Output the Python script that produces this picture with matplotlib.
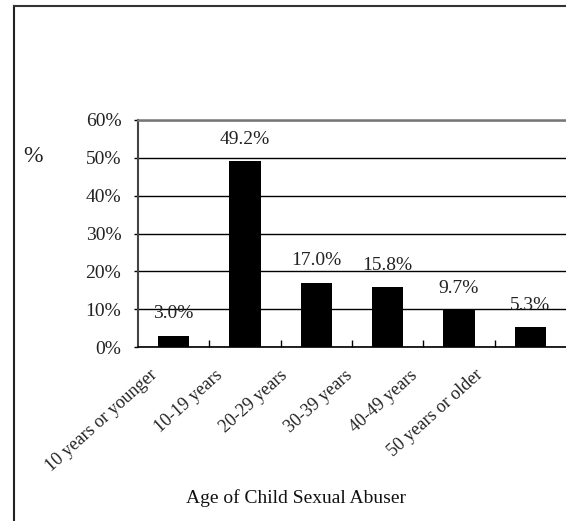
import matplotlib
matplotlib.use("Agg")
import matplotlib.pyplot as plt
from matplotlib.lines import Line2D
from matplotlib.ticker import FixedLocator, PercentFormatter
import matplotlib.transforms as mtransforms

categories = ["10 years or younger", "10-19 years", "20-29 years",
              "30-39 years", "40-49 years", "50 years or older"]
values = [3.0, 49.2, 17.0, 15.8, 9.7, 5.3]
value_labels = ["3.0%", "49.2%", "17.0%", "15.8%", "9.7%", "5.3%"]
yticks = [0, 10, 20, 30, 40, 50, 60]

plt.rcParams['font.family'] = ['Liberation Serif', 'DejaVu Serif']
FS = 14

fig = plt.figure(figsize=(5.66, 5.21), dpi=100)
ax = fig.add_axes([138/566, 1 - 347/521, 1 - 138/566, (347 - 120)/521])

x = list(range(len(categories)))
ax.bar(x, values, width=0.44, color='black', zorder=3)
ax.set_xlim(-0.5, len(categories) - 0.5)
ax.set_ylim(0, 60)
ax.set_yticks(yticks)
ax.yaxis.set_major_formatter(PercentFormatter(decimals=0))
ax.tick_params(axis='y', labelsize=FS, length=3, width=1, pad=9, direction='out',
               labelcolor='#222222')
ax.grid(axis='y', color='black', linewidth=1, zorder=0)

ax.set_xticks(x)
ax.set_xticklabels(categories, rotation=42, ha='right', rotation_mode='anchor',
                   fontsize=FS - 1, color='#222222')
ax.tick_params(axis='x', length=0, pad=14)
for i, lab in enumerate(ax.get_xticklabels()):
    off = mtransforms.ScaledTranslation((-24 - 6.4 * i) / 100, 0, fig.dpi_scale_trans)
    lab.set_transform(lab.get_transform() + off)
ax.xaxis.set_minor_locator(FixedLocator([i + 0.5 for i in x[:-1]]))
ax.tick_params(axis='x', which='minor', direction='in', length=5, width=1, color='black')

ax.spines['right'].set_visible(False)
ax.spines['top'].set_color('#777777')
ax.spines['top'].set_linewidth(1.8)
ax.spines['left'].set_color('#444444')
ax.spines['left'].set_linewidth(1.5)
ax.spines['bottom'].set_linewidth(1.2)

for xi, v, lab in zip(x, values, value_labels):
    ax.annotate(lab, (xi, v), xytext=(0, 9.5), textcoords='offset points',
                ha='center', va='bottom', fontsize=FS, color='#222222', zorder=4)

fig.text(33/566, 1 - 156/521, "%", fontsize=FS + 3, ha='center', va='center', color='#222222')
fig.text(296/566, 1 - 498/521, "Age of Child Sexual Abuser", fontsize=FS,
         ha='center', va='center', color='#111111')

fig.add_artist(Line2D([14/566, 14/566], [0, 1 - 6/521], transform=fig.transFigure,
                      color='#222222', linewidth=1.5))
fig.add_artist(Line2D([14/566, 1], [1 - 6/521, 1 - 6/521], transform=fig.transFigure,
                      color='#333333', linewidth=1.5))

fig.savefig("out.png", dpi=100)
